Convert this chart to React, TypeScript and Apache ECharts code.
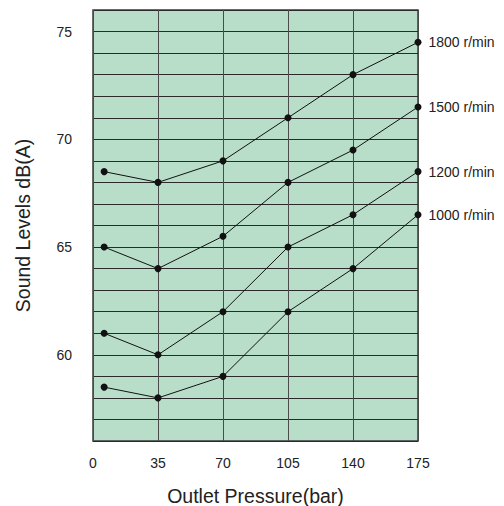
import React, { useEffect, useRef } from "react";
import * as echarts from "echarts";

const pressures = [6, 35, 70, 105, 140, 175];
const seriesNames = ["1800 r/min", "1500 r/min", "1200 r/min", "1000 r/min"];
const s1800 = [68.5, 68, 69, 71, 73, 74.5];
const s1500 = [65, 64, 65.5, 68, 69.5, 71.5];
const s1200 = [61, 60, 62, 65, 66.5, 68.5];
const s1000 = [58.5, 58, 59, 62, 64, 66.5];
const xTicks = [0, 35, 70, 105, 140, 175];
const yTickLabels = [60, 65, 70, 75];

const FONT = "'Liberation Sans', Arial, sans-serif";

export default function App() {
  const ref = useRef<HTMLDivElement>(null);
  useEffect(() => {
    if (!ref.current) return;
    const chart = echarts.init(ref.current, null, { renderer: "svg" });
    const all = [s1800, s1500, s1200, s1000];
    chart.setOption({
      animation: false,
      textStyle: { fontFamily: FONT },
      grid: {
        left: 93,
        right: 86,
        top: 10,
        bottom: 65,
        outerBoundsMode: "none",
        containLabel: false,
        show: true,
        backgroundColor: "#b8dec9",
        borderColor: "#3a3a3a",
        borderWidth: 1.5,
      },
      xAxis: {
        type: "value",
        min: 0,
        max: 175,
        interval: 35,
        name: "Outlet Pressure(bar)",
        nameLocation: "middle",
        nameGap: 45,
        nameTextStyle: { fontSize: 19.5, color: "#222", fontFamily: FONT },
        axisLine: { show: false },
        axisTick: { show: false },
        axisLabel: {
          fontSize: 14,
          color: "#222",
          fontFamily: FONT,
          margin: 15,
          formatter: (v: number) => (xTicks.includes(v) ? String(v) : ""),
        },
        splitLine: { show: true, lineStyle: { color: "#4a4a4a", width: 1 } },
      },
      yAxis: {
        type: "value",
        min: 56,
        max: 76,
        interval: 1,
        name: "Sound Levels dB(A)",
        nameLocation: "middle",
        nameGap: 60,
        nameTextStyle: { fontSize: 19.5, color: "#222", fontFamily: FONT },
        axisLine: { show: false },
        axisTick: { show: false },
        axisLabel: {
          fontSize: 14,
          color: "#222",
          fontFamily: FONT,
          margin: 21,
          formatter: (v: number) => (yTickLabels.includes(v) ? String(v) : ""),
        },
        splitLine: { show: true, lineStyle: { color: "#2a2a2a", width: 1 } },
      },
      series: all.map((vals, i) => ({
        type: "line",
        name: seriesNames[i],
        data: pressures.map((p, j) =>
          j === pressures.length - 1
            ? {
                value: [p, vals[j]],
                label: {
                  show: true,
                  position: "right",
                  distance: 7,
                  formatter: seriesNames[i],
                  fontSize: 14,
                  fontFamily: FONT,
                  color: "#222",
                },
              }
            : { value: [p, vals[j]] }
        ),
        symbol: "circle",
        symbolSize: 7,
        itemStyle: { color: "#111" },
        lineStyle: { color: "#111", width: 1 },
      })),
    });
    return () => chart.dispose();
  }, []);
  return (
    <div
      ref={ref}
      style={{ position: "absolute", left: 0, top: 0, width: 504, height: 506 }}
    />
  );
}
